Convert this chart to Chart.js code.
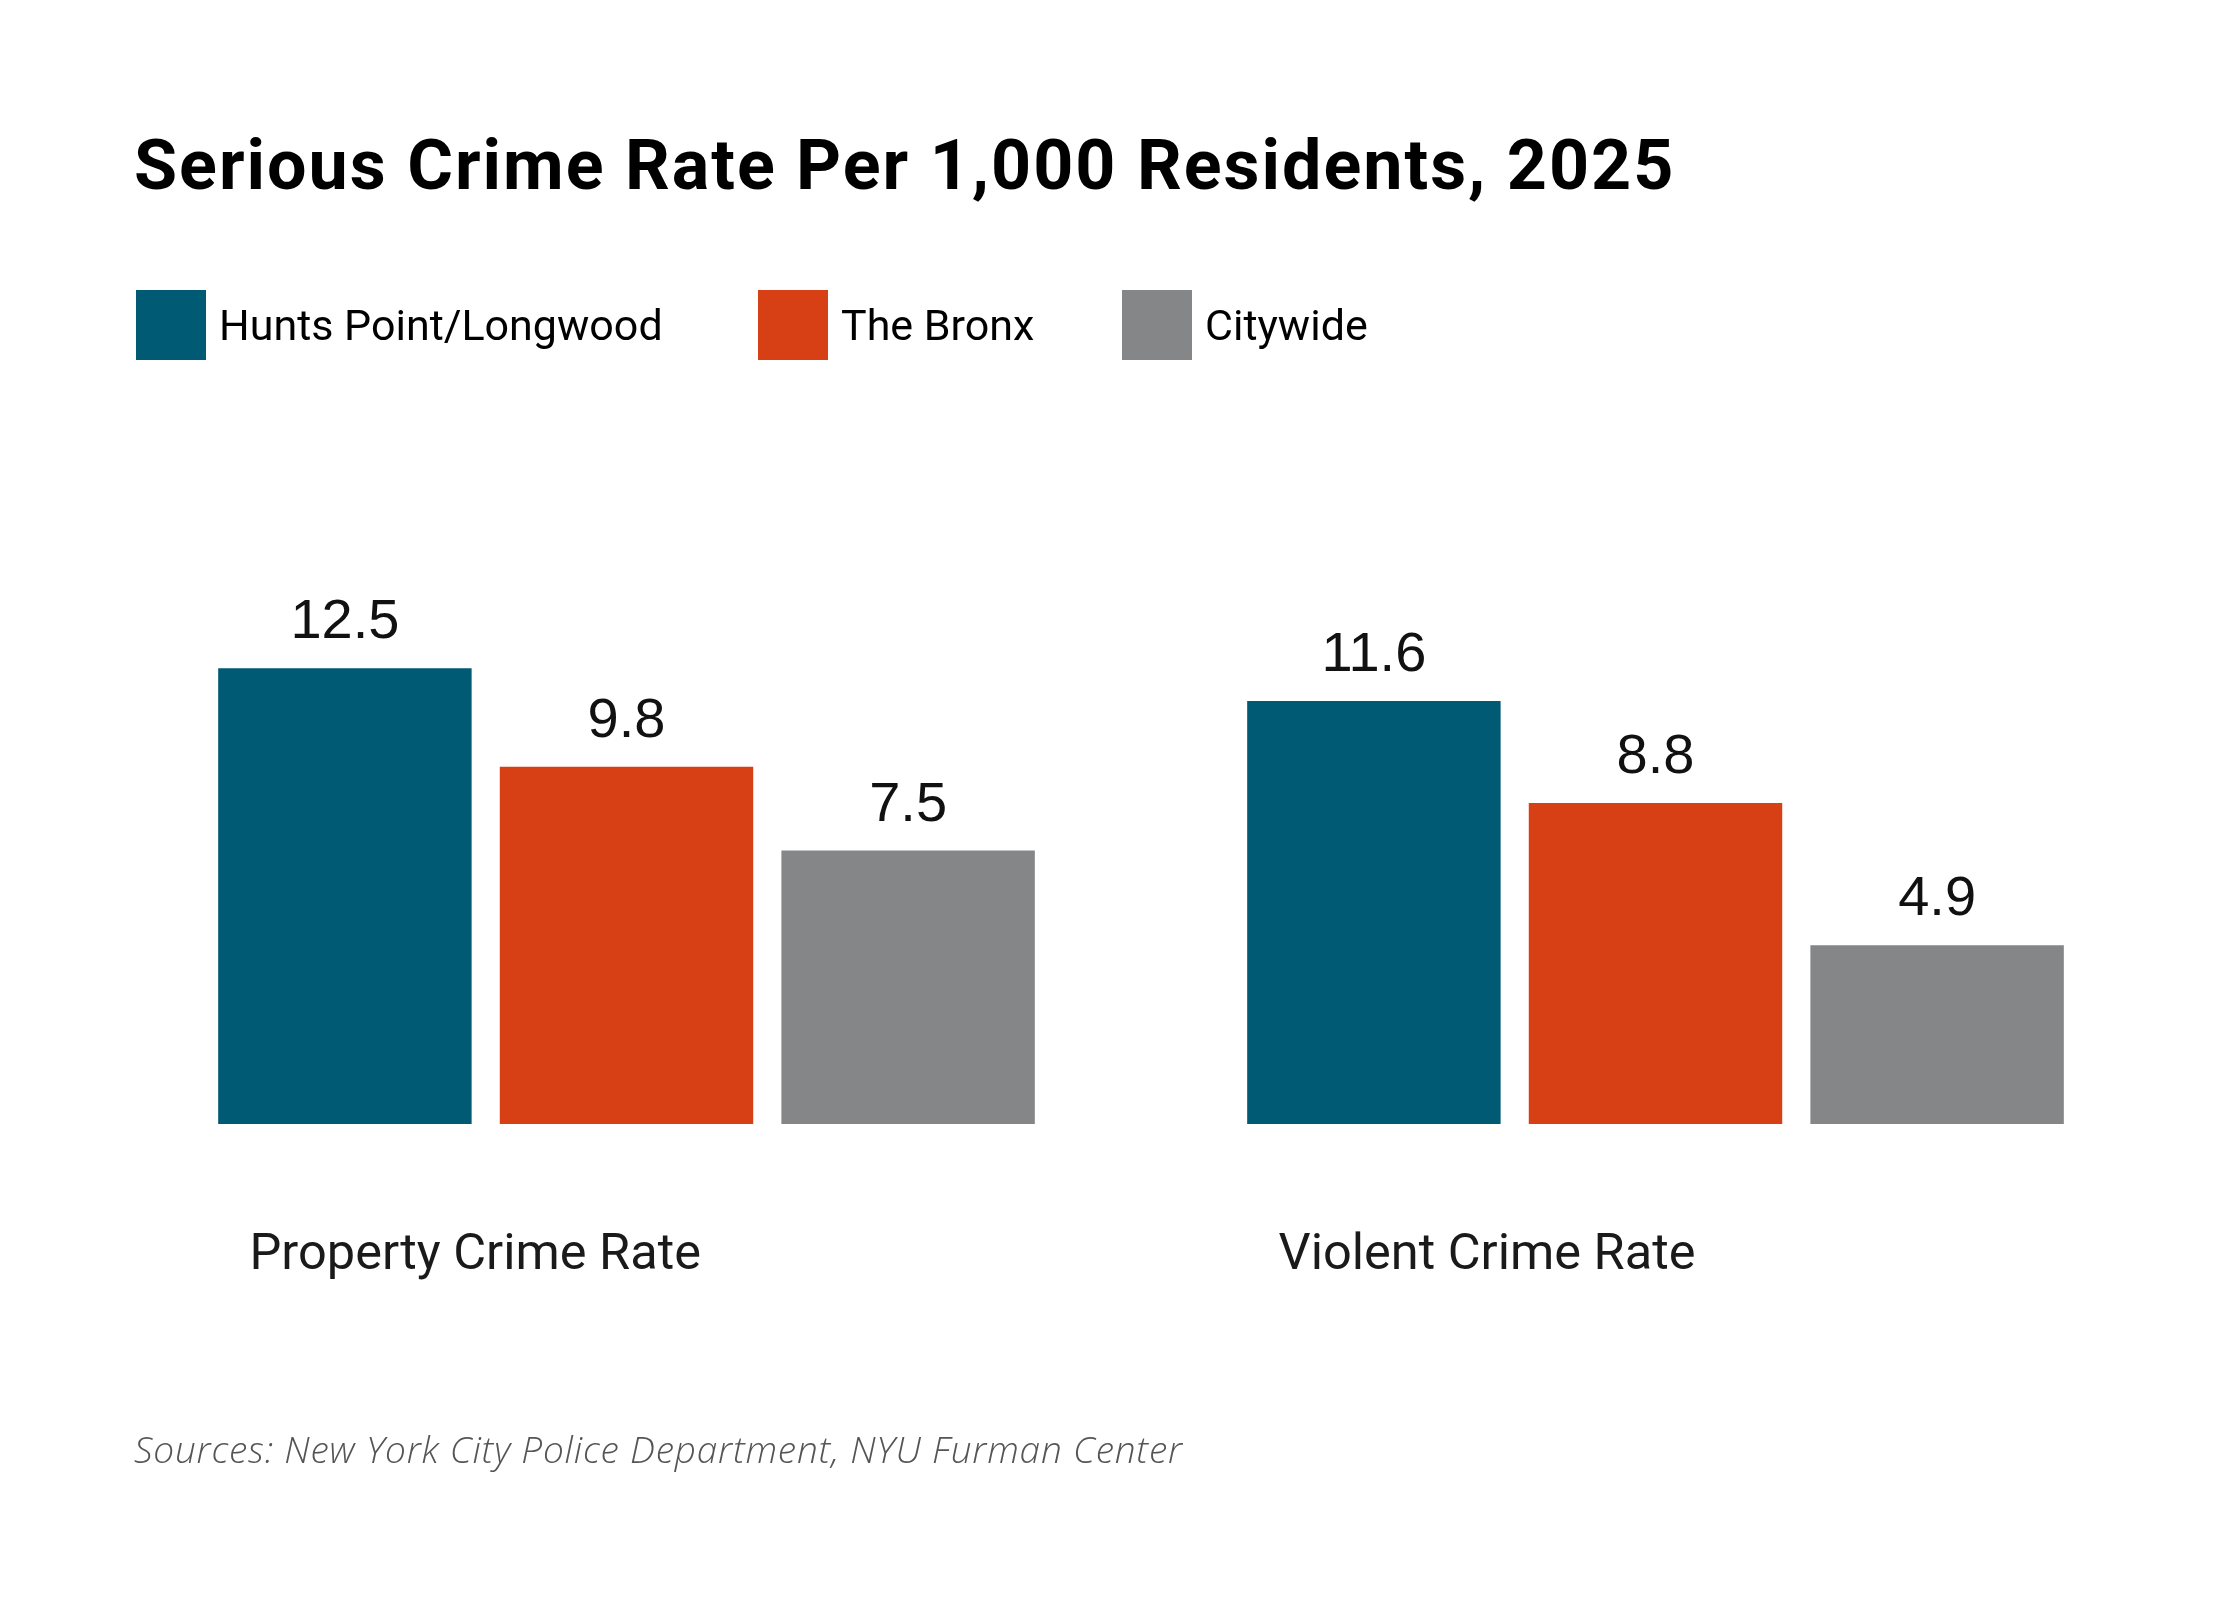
<!DOCTYPE html>
<html>
<head>
<meta charset="utf-8">
<script src="https://cdn.jsdelivr.net/npm/chart.js@4.4.1/dist/chart.umd.min.js"></script>
<style>
  html, body { margin: 0; padding: 0; background: #ffffff; }
  #chart { display: block; }
</style>
</head>
<body>
<canvas id="chart" width="2240" height="1600"></canvas>
<script>
// ---- Data ----
const categories = ['Property Crime Rate', 'Violent Crime Rate'];
const seriesNames = ['Hunts Point/Longwood', 'The Bronx', 'Citywide'];
const huntsPointLongwood = [12.5, 11.6];
const theBronx = [9.8, 8.8];
const citywide = [7.5, 4.9];
const seriesColors = ['#005a74', '#d64014', '#858688'];
const titleText = 'Serious Crime Rate Per 1,000 Residents, 2025';
const sourceText = 'Sources: New York City Police Department, NYU Furman Center';

const seriesValues = [huntsPointLongwood, theBronx, citywide];

// ---- Plugins ----
const background = {
  id: 'background',
  beforeDraw(chart) {
    const c = chart.ctx;
    c.save();
    c.fillStyle = '#ffffff';
    c.fillRect(0, 0, chart.width, chart.height);
    c.restore();
  }
};

const valueLabels = {
  id: 'valueLabels',
  afterDatasetsDraw(chart) {
    const c = chart.ctx;
    c.save();
    c.font = '56px "Liberation Sans", Arial, sans-serif';
    c.fillStyle = '#111111';
    c.textAlign = 'center';
    c.textBaseline = 'alphabetic';
    chart.data.datasets.forEach((ds, i) => {
      chart.getDatasetMeta(i).data.forEach((el, j) => {
        c.fillText(ds.data[j].toFixed(1), el.x, el.y - 30);
      });
    });
    c.restore();
  }
};

const legendBoxX = [136, 758, 1122];
const decorations = {
  id: 'decorations',
  afterDraw(chart) {
    const c = chart.ctx;
    c.save();
    // Title
    c.fillStyle = '#000000';
    c.textAlign = 'left';
    c.textBaseline = 'alphabetic';
    c.font = '700 70px Roboto, sans-serif';
    c.letterSpacing = '2px';
    c.fillText(titleText, 134, 189);
    c.letterSpacing = '0px';
    // Legend
    c.font = '43px Roboto, sans-serif';
    chart.data.datasets.forEach((ds, i) => {
      const x = legendBoxX[i];
      c.fillStyle = ds.backgroundColor;
      c.fillRect(x, 290, 70, 70);
      c.fillStyle = '#000000';
      c.fillText(ds.label, x + 83, 340);
    });
    // Source
    c.fillStyle = '#555555';
    c.font = 'italic 300 37px "Open Sans", sans-serif';
    c.letterSpacing = '0.8px';
    c.fillText(sourceText, 134, 1463);
    c.letterSpacing = '0px';
    c.restore();
  }
};

// ---- Chart ----
const ctx = document.getElementById('chart').getContext('2d');
new Chart(ctx, {
  type: 'bar',
  data: {
    labels: categories,
    datasets: seriesNames.map((name, i) => ({
      label: name,
      data: seriesValues[i],
      backgroundColor: seriesColors[i],
      borderWidth: 0
    }))
  },
  options: {
    responsive: false,
    devicePixelRatio: 1,
    animation: false,
    layout: { padding: { left: 112, right: 70, top: 577, bottom: 0 } },
    datasets: { bar: { categoryPercentage: 0.821, barPercentage: 0.9 } },
    scales: {
      x: {
        grid: { display: false, drawTicks: false },
        border: { display: false },
        ticks: {
          align: 'start',
          labelOffset: -377,
          padding: 102,
          color: '#1a1a1a',
          font: { family: 'Roboto, sans-serif', size: 50.5 },
          autoSkip: false,
          maxRotation: 0
        },
        afterFit(axis) { axis.height = 476; }
      },
      y: { display: false, min: 0, max: 15 }
    },
    plugins: {
      legend: { display: false },
      tooltip: { enabled: false },
      title: { display: false }
    }
  },
  plugins: [background, valueLabels, decorations]
});
</script>
</body>
</html>
